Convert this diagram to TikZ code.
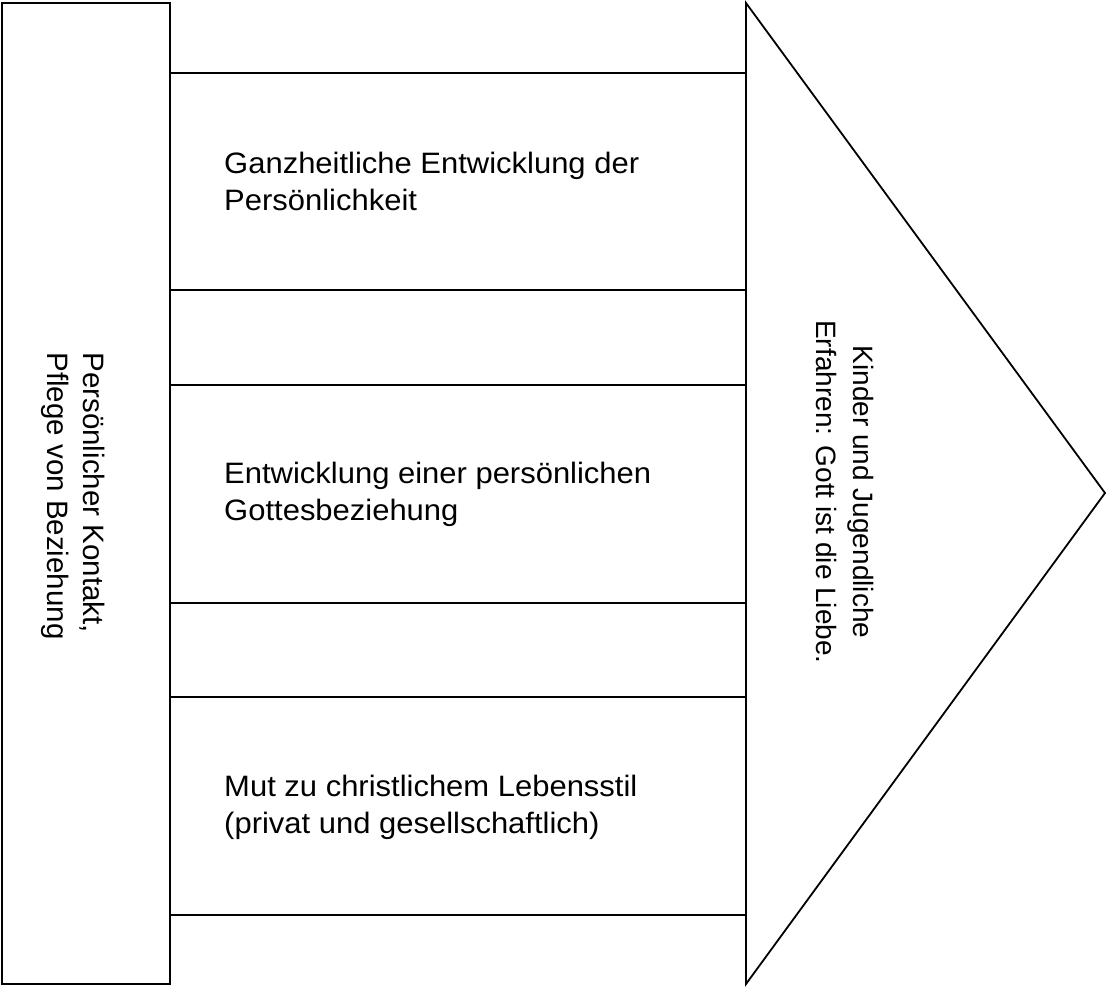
\documentclass[tikz,border=0pt]{standalone}
\usepackage{fontspec}
\setmainfont{Liberation Sans}
\newfontfamily\widesans{Liberation Sans}[FakeStretch=1.05]
\begin{document}
\begin{tikzpicture}[x=1pt,y=-1pt,line width=1.8pt,
  label/.style={anchor=west,align=left,font=\widesans\fontsize{29.5}{37}\selectfont},
  side/.style={rotate=-90,font=\fontsize{29.5}{36}\selectfont}]
  \useasboundingbox (0,0) rectangle (1110,987);
  \draw (2,3) rectangle (170,984);
  \draw (746,3) -- (1105,493) -- (746,984) -- cycle;
  \foreach \y in {73,290,385,603,697,915}
    \draw (170,\y) -- (746,\y);

  \node[label] (whole) at (220,181) {Ganzheitliche Entwicklung der\\Persönlichkeit};
  \node[label] (god) at (220,494) {Entwicklung einer persönlichen\\Gottesbeziehung};
  \node[label] (life) at (220,807) {Mut zu christlichem Lebensstil\\(privat und gesellschaftlich)};
  \node[side,align=left] (contact) at (73,496) {Persönlicher Kontakt,\\Pflege von Beziehung};
  \node[side,align=center,font=\fontsize{28}{37}\selectfont] (love) at (845,492) {Kinder und Jugendliche\\Erfahren: Gott ist die Liebe.};
\end{tikzpicture}
\end{document}
